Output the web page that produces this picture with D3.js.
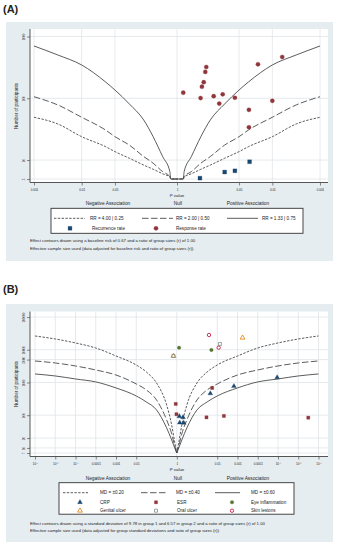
<!DOCTYPE html>
<html><head><meta charset="utf-8">
<script src="https://cdn.jsdelivr.net/npm/d3@7"></script>
<style>
body{margin:0;background:#fff}
svg{display:block}
text{font-family:"Liberation Sans",Arial,Helvetica,sans-serif;fill:#222}
</style>
</head><body>
<svg id="c" width="337" height="550"></svg>
<script>
// ---------------- Panel A data ----------------
const aXTickP     = [0.001, 0.01, 0.05, 1, 0.05, 0.01, 0.001];
const aXTickSide  = [-1, -1, -1, 0, 1, 1, 1];
const aXTickLabel = ["0.001","0.01","0.05","1","0.05","0.01","0.001"];
const aYTicks      = [1000, 100, 10, 4.94];
const aYTickLabels = ["1000", "100", "10", "5"];
const aYMin = 4.94, aYMax = 1000;

const aRecurrenceP = [0.33, 0.10, 0.061, 0.030];
const aRecurrenceN = [5.1, 6.4, 6.7, 9.4];
const aResponseP = [0.74, 0.32, 0.30, 0.275, 0.255, 0.243, 0.17, 0.13, 0.11, 0.061, 0.031, 0.031, 0.020, 0.010, 0.0062];
const aResponseN = [123, 101, 154, 182, 267, 321, 108, 82, 116, 102, 65, 34, 355, 91, 466];

// contour read-off (p value on each side, number of participants)
const aContourP = [0.001, 0.00316, 0.01, 0.0316, 0.05, 0.1, 0.2, 0.316, 0.5, 0.708, 0.741];
const aSolidN   = [702, 502, 346, 184, 136, 81, 44.6, 23.9, 11.4, 6.5, 4.94];
const aLongN    = [106, 78, 49.3, 30.7, 23.9, 17.5, 11.4, 8.9, 6.5, 5.4, 4.94];
const aShortN   = [49.3, 38.4, 23.9, 16.5, 13.7, 10.7, 8.3, 7.1, 6.0, 5.3, 4.94];

const aLegendLines = ["RR = 4.00 | 0.25", "RR = 2.00 | 0.50", "RR = 1.33 | 0.75"];
const aNotes = ["Effect contours drawn using a baseline risk of 0.67 and a ratio of group sizes (r) of 1.00",
                "Effective sample size used (data adjusted for baseline risk and ratio of group sizes (r))."];

// ---------------- Panel B data ----------------
const bXTickP     = [1e-7, 1e-6, 1e-5, 1e-4, 1e-3, 1e-2, 1, 1e-2, 1e-3, 1e-4, 1e-5, 1e-6, 1e-7];
const bXTickSide  = [-1, -1, -1, -1, -1, -1, 0, 1, 1, 1, 1, 1, 1];
const bXTickLabel = ["10\u207B\u2077","10\u207B\u2076","10\u207B\u2075","0.0001","0.001","0.01","1","0.01","0.001","0.0001","10\u207B\u2075","10\u207B\u2076","10\u207B\u2077"];
const bYTicks      = [100000, 10000, 5000, 1000, 100, 20, 10, 7];
const bYTickLabels = ["100000", "10000", "5000", "1000", "100", "20", "10", "7"];
const bYMin = 7, bYMax = 100000;

const bCRP_P = [0.022, 0.0015, 1.1e-5, 0.745, 0.49, 0.71, 0.45];
const bCRP_N = [461, 771, 1422, 92, 86, 59, 58];
const bCRP_S = [1, 1, 1, 1, 1, 1, 1];
const bESR_P = [0.89, 0.966, 0.0178, 0.034, 0.0047, 3.2e-7];
const bESR_N = [221, 107, 680, 86, 95, 84];
const bESR_S = [-1, -1, 1, 1, 1, 1];
const bEye_P = [0.77, 0.0195];
const bEye_N = [11560, 9830];
const bEye_S = [1, 1];
const bGen_P = [0.00056, 0.687];
const bGen_N = [23300, 6440];
const bGen_S = [1, -1];
const bOral_P = [0.0074, 0.687];
const bOral_N = [15000, 6440];
const bOral_S = [1, -1];
const bSkin_P = [0.0256, 0.0085];
const bSkin_N = [28200, 11560];
const bSkin_S = [1, 1];

const bContourP = [1e-7, 1e-6, 1e-5, 1e-4, 1e-3, 1e-2, 0.0316, 0.1, 0.316, 0.562, 0.794, 1];
const bShortN = [26300, 21300, 16100, 11300, 6440, 3420, 2090, 966, 206, 50, 15, 7];
const bLongN  = [4530, 3940, 3190, 2410, 1690, 900, 590, 292, 72, 27, 11.5, 7];
const bSolidN = [1820, 1580, 1280, 1040, 680, 387, 254, 145, 41, 17.5, 10, 7];

const bLegendLines = ["MD = \u00B10.20", "MD = \u00B10.40", "MD = \u00B10.60"];
const bNotes = ["Effect contours drawn using a standard deviation of 9.78 in group 1 and 6.57 in group 2 and a ratio of group sizes (r) of 1.00",
                "Effective sample size used (data adjusted for group standard deviations and ratio of group sizes (r))."];

// ---------------- styling ----------------
const BG = "#e6edf1", GRID = "#dfe5e9", AXIS = "#555", CONT = "#4a4a4a";
const NAVY = "#1a476f", MAROON = "#90353b", GREEN = "#55752f", ORANGE = "#e37e00", TEAL = "#7d8f8a", CRAN = "#c10534";
const SHORT_DASH = "2.4,1.4", LONG_DASH = "6.5,2.5";

const svg = d3.select("#c");
const sx = (p, s) => s * -Math.log10(p);

function panel(cfg) {
  const g = svg.append("g");
  g.append("rect").attr("x", 6).attr("y", cfg.boxTop).attr("width", 327).attr("height", cfg.boxH).attr("fill", BG);
  g.append("text").attr("x", 3).attr("y", cfg.tagY).attr("font-size", 11).attr("font-weight", "bold").text(cfg.tag);
  g.append("rect").attr("x", 30).attr("y", cfg.plotTop).attr("width", 298).attr("height", cfg.plotBottom - cfg.plotTop).attr("fill", "#fff");

  const x = d3.scaleLinear().domain(cfg.xDomain).range(cfg.xRange);
  const y = d3.scaleLog().domain([cfg.yMin, cfg.yMax]).range(cfg.yRange);

  // grid
  cfg.xTickP.forEach((p, i) => {
    const xv = x(sx(p, cfg.xTickSide[i]));
    g.append("line").attr("x1", xv).attr("x2", xv).attr("y1", cfg.plotTop).attr("y2", cfg.plotBottom).attr("stroke", GRID).attr("stroke-width", 0.8);
  });
  cfg.yTicks.forEach(t => {
    g.append("line").attr("x1", 30).attr("x2", 328).attr("y1", y(t)).attr("y2", y(t)).attr("stroke", GRID).attr("stroke-width", 0.8);
  });

  // axes
  const xa = d3.axisBottom(x).tickValues(cfg.xTickP.map((p, i) => sx(p, cfg.xTickSide[i]))).tickFormat((d, i) => cfg.xTickLabel[i]).tickSize(3).tickSizeOuter(0);
  const xg = g.append("g").attr("transform", `translate(0,${cfg.plotBottom})`).call(xa);
  xg.select(".domain").attr("d", `M30,0H328`).attr("stroke", AXIS);
  xg.selectAll(".tick line").attr("stroke", AXIS).attr("stroke-width", 0.7);
  xg.selectAll(".tick text").attr("font-size", 3).attr("y", 6).attr("fill", "#333").attr("font-family", "Liberation Sans, Arial, sans-serif");

  const ya = d3.axisLeft(y).tickValues(cfg.yTicks).tickFormat((d, i) => cfg.yTickLabels[i]).tickSize(3).tickSizeOuter(0);
  const yg = g.append("g").attr("transform", `translate(30,0)`).call(ya);
  yg.select(".domain").attr("d", `M0,${cfg.plotTop}V${cfg.plotBottom}`).attr("stroke", AXIS);
  yg.selectAll(".tick line").attr("stroke", AXIS).attr("stroke-width", 0.7);
  yg.selectAll(".tick text").attr("font-size", 3).attr("fill", "#333").attr("x", 0).attr("dy", 0)
    .attr("text-anchor", "middle").attr("transform", "translate(-5,0) rotate(-90)").attr("font-family", "Liberation Sans, Arial, sans-serif");

  g.append("text").attr("transform", `translate(18,${cfg.yTitleY}) rotate(-90)`).attr("text-anchor", "middle").attr("font-size", 4.6).text("Number of participants");
  g.append("text").attr("x", 177).attr("y", cfg.pValY).attr("text-anchor", "middle").attr("font-size", 4.4).text("P value");
  g.append("text").attr("x", 108).attr("y", cfg.assocY).attr("text-anchor", "middle").attr("font-size", 4.8).text("Negative Association");
  g.append("text").attr("x", 178).attr("y", cfg.assocY).attr("text-anchor", "middle").attr("font-size", 4.8).text("Null");
  g.append("text").attr("x", 248).attr("y", cfg.assocY).attr("text-anchor", "middle").attr("font-size", 4.8).text("Positive Association");

  // contours
  const clipId = "clip" + cfg.tag.replace(/\W/g, "");
  svg.append("clipPath").attr("id", clipId).append("rect").attr("x", 30).attr("y", cfg.plotTop).attr("width", 298).attr("height", cfg.plotBottom - cfg.plotTop);
  const cg = g.append("g").attr("clip-path", `url(#${clipId})`);
  const line = d3.line().x(d => x(d[0])).y(d => y(d[1])).curve(d3.curveMonotoneX);
  cfg.contours.forEach(c => {
    const left = cfg.contourP.map((p, i) => [sx(p, -1), c.n[i]]);
    const right = cfg.contourP.map((p, i) => [sx(p, 1), c.n[i]]).reverse();
    const parts = cfg.splitContours ? [left, right] : [left.concat(right)];
    parts.forEach(pts => {
      pts.sort((a, b) => a[0] - b[0]);
      cg.append("path").attr("d", line(pts)).attr("fill", "none").attr("stroke", CONT).attr("stroke-width", 0.9)
        .attr("stroke-dasharray", c.dash);
    });
  });

  // markers
  const mg = g.append("g");
  cfg.series.forEach(s => {
    s.p.forEach((p, i) => {
      mg.append("path").attr("d", d3.symbol().type(s.shape).size(s.size)())
        .attr("transform", `translate(${x(sx(p, s.side[i]))},${y(s.n[i])})`)
        .attr("fill", s.hollow ? "none" : s.color).attr("stroke", s.color).attr("stroke-width", s.hollow ? 0.8 : 0.3);
    });
  });

  // legend
  const L = cfg.legend;
  g.append("rect").attr("x", L.x).attr("y", L.y).attr("width", L.w).attr("height", L.h).attr("fill", "#fff").attr("stroke", "#333").attr("stroke-width", 0.9);
  cfg.contours.forEach((c, i) => {
    const lx = L.lineX[i];
    g.append("line").attr("x1", lx).attr("x2", lx + L.lineW).attr("y1", L.row1).attr("y2", L.row1).attr("stroke", CONT).attr("stroke-width", 0.9).attr("stroke-dasharray", c.dash);
    g.append("text").attr("x", L.textX[i]).attr("y", L.row1 + 1.6).attr("font-size", 4.6).text(c.label);
  });
  cfg.series.forEach((s, i) => {
    if (s.noLegend) return;
    const col = i % 3, row = Math.floor(i / 3);
    const ry = L.rows[row];
    g.append("path").attr("d", d3.symbol().type(s.shape).size(s.size)()).attr("transform", `translate(${L.markX[col]},${ry})`)
      .attr("fill", s.hollow ? "none" : s.color).attr("stroke", s.color).attr("stroke-width", s.hollow ? 0.8 : 0.3);
    g.append("text").attr("x", L.labX[col]).attr("y", ry + 1.6).attr("font-size", 4.6).text(s.name);
  });

  cfg.notes.forEach((t, i) => {
    g.append("text").attr("x", 30).attr("y", cfg.notesY[i]).attr("font-size", 4.3).text(t);
  });
}

panel({
  tag: "(A)", tagY: 12.5, boxTop: 22, boxH: 239, plotTop: 29, plotBottom: 182.5,
  xDomain: [-3, 3], xRange: [34, 320],
  yMin: aYMin, yMax: aYMax, yRange: [179, 36.5],
  xTickP: aXTickP, xTickSide: aXTickSide, xTickLabel: aXTickLabel,
  yTicks: aYTicks, yTickLabels: aYTickLabels,
  yTitleY: 106, pValY: 196.5, assocY: 205,
  contourP: aContourP, splitContours: false,
  contours: [
    {n: aShortN, dash: SHORT_DASH, label: aLegendLines[0]},
    {n: aLongN, dash: LONG_DASH, label: aLegendLines[1]},
    {n: aSolidN, dash: null, label: aLegendLines[2]}
  ],
  series: [
    {name: "Recurrence rate", p: aRecurrenceP, n: aRecurrenceN, side: aRecurrenceP.map(() => 1), shape: d3.symbolSquare, size: 15, color: NAVY},
    {name: "Response rate", p: aResponseP, n: aResponseN, side: aResponseP.map(() => 1), shape: d3.symbolCircle, size: 14, color: MAROON}
  ],
  legend: {x: 51, y: 208.3, w: 252, h: 25, row1: 218.3, rows: [228.3],
           lineX: [54, 142, 227], lineW: 31, textX: [90, 176, 262],
           markX: [70, 156, 232], labX: [92, 176, 251]},
  notes: aNotes, notesY: [241.5, 249.5]
});

panel({
  tag: "(B)", tagY: 293, boxTop: 304, boxH: 238, plotTop: 311.5, plotBottom: 456.5,
  xDomain: [-7, 7], xRange: [35, 318.5],
  yMin: bYMin, yMax: bYMax, yRange: [453, 317],
  xTickP: bXTickP, xTickSide: bXTickSide, xTickLabel: bXTickLabel,
  yTicks: bYTicks, yTickLabels: bYTickLabels,
  yTitleY: 384, pValY: 471, assocY: 479.5,
  contourP: bContourP, splitContours: true,
  contours: [
    {n: bShortN, dash: SHORT_DASH, label: bLegendLines[0]},
    {n: bLongN, dash: LONG_DASH, label: bLegendLines[1]},
    {n: bSolidN, dash: null, label: bLegendLines[2]}
  ],
  series: [
    {name: "CRP", p: bCRP_P, n: bCRP_N, side: bCRP_S, shape: d3.symbolTriangle, size: 10, color: NAVY},
    {name: "ESR", p: bESR_P, n: bESR_N, side: bESR_S, shape: d3.symbolSquare, size: 10, color: MAROON},
    {name: "Eye inflammation", p: bEye_P, n: bEye_N, side: bEye_S, shape: d3.symbolCircle, size: 10, color: GREEN},
    {name: "Genital ulcer", p: bGen_P, n: bGen_N, side: bGen_S, shape: d3.symbolTriangle, size: 10, color: ORANGE, hollow: true},
    {name: "Oral ulcer", p: bOral_P, n: bOral_N, side: bOral_S, shape: d3.symbolSquare, size: 9, color: TEAL, hollow: true},
    {name: "Skin lesions", p: bSkin_P, n: bSkin_N, side: bSkin_S, shape: d3.symbolCircle, size: 9, color: CRAN, hollow: true}
  ],
  legend: {x: 59, y: 482.7, w: 235, h: 31.5, row1: 492.7, rows: [502.3, 510.7],
           lineX: [63, 141, 215], lineW: 25, textX: [100, 176, 251],
           markX: [80, 156, 232], labX: [100, 177, 251]},
  notes: bNotes, notesY: [524.8, 531.5]
});
</script>
</body></html>
